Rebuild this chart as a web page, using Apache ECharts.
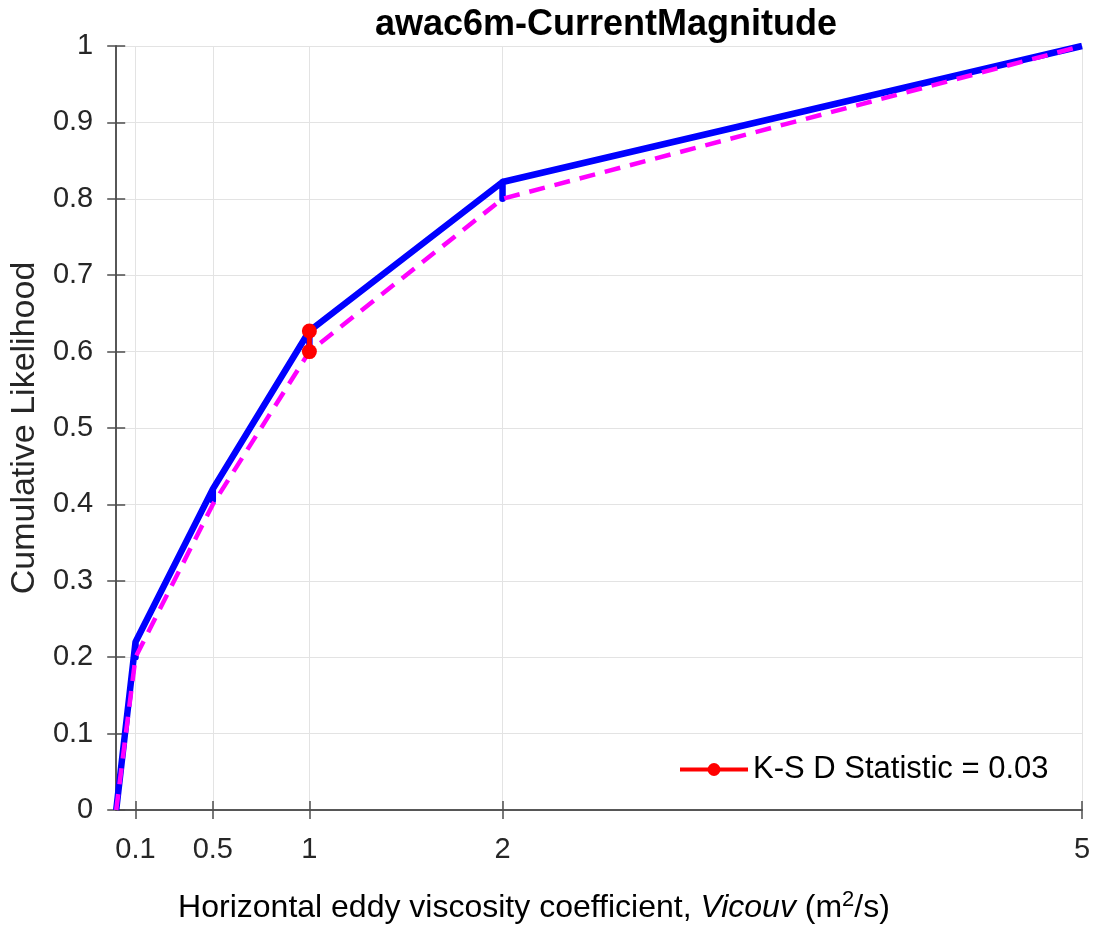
<!DOCTYPE html>
<html>
<head>
<meta charset="utf-8">
<script src="https://cdn.jsdelivr.net/npm/echarts@6/dist/echarts.min.js"></script>
<style>
html,body{margin:0;padding:0;background:#fff;}
#c{width:1094px;height:925px;}
</style>
</head>
<body>
<div id="c"></div>
<script>
// ---- data ----
const titleText = 'awac6m-CurrentMagnitude';
const xTickValues = [0.1, 0.5, 1, 2, 5];
const yTickValues = [0, 0.1, 0.2, 0.3, 0.4, 0.5, 0.6, 0.7, 0.8, 0.9, 1];
// model CDF (blue, solid)
const blueX = [0, 0.1, 0.1, 0.1, 0.5, 0.5, 0.5, 1, 1, 1, 2, 2, 2, 5];
const blueY = [0, 0.22, 0.20, 0.22, 0.42, 0.405, 0.42, 0.627, 0.60, 0.627, 0.822, 0.80, 0.822, 1];
// observed CDF (magenta, dashed)
const magX = [0, 0.1, 0.5, 1, 2, 5];
const magY = [0, 0.2, 0.4, 0.6, 0.8, 1];
// K-S statistic segment
const ksX = [1, 1];
const ksY = [0.6, 0.627];
const ksName = 'K-S D Statistic = 0.03';

const zip = (a, b) => a.map((v, i) => [v, b[i]]);
const FONT = "'Liberation Sans', Arial, Helvetica, sans-serif";
const AX = '#4d4d4d';
const GRID = '#e3e3e3';

const chart = echarts.init(document.getElementById('c'));
chart.setOption({
  backgroundColor: '#ffffff',
  animation: false,
  title: [
    {
      text: titleText,
      left: 601, top: 2, textAlign: 'center',
      textStyle: {fontFamily: FONT, fontWeight: 'bold', fontSize: 36, color: '#000'}
    },
    {
      text: '{n|Horizontal eddy viscosity coefficient, }{i|Vicouv}{n| (m}{s|2}{n|/s)}',
      left: 529, top: 884, textAlign: 'center',
      textStyle: {
        fontFamily: FONT, fontSize: 32, fontWeight: 'normal', color: '#000',
        rich: {
          n: {fontFamily: FONT, fontSize: 32, fontWeight: 'normal', color: '#000'},
          i: {fontFamily: FONT, fontSize: 32, fontWeight: 'normal', color: '#000', fontStyle: 'italic'},
          s: {fontFamily: FONT, fontSize: 22, fontWeight: 'normal', color: '#000', verticalAlign: 'top', padding: [0, 0, 16, 0]}
        }
      }
    }
  ],
  legend: {
    data: [{name: ksName, lineStyle: {width: 4, color: '#ff0000'}}],
    left: 673, top: 749,
    itemWidth: 68, itemHeight: 16, itemGap: 8,
    textStyle: {fontFamily: FONT, fontSize: 31, color: '#000'},
    backgroundColor: 'transparent'
  },
  grid: {left: 116, right: 12, top: 46, bottom: 115, containLabel: false},
  xAxis: [
    {
      type: 'value', min: 0, max: 5, position: 'bottom',
      axisLine: {show: true, lineStyle: {color: AX, width: 1.5}},
      axisTick: {show: true, inside: false, length: 9, customValues: xTickValues, lineStyle: {color: AX, width: 1.5}},
      axisLabel: {customValues: xTickValues, margin: 25, fontFamily: FONT, fontSize: 29, color: '#262626',
        formatter: v => String(v)},
      splitLine: {show: true, lineStyle: {color: GRID, width: 1}}
    },
    {
      type: 'value', min: 0, max: 5, position: 'top',
      axisLine: {show: true, lineStyle: {color: AX, width: 1.5}},
      axisTick: {show: true, inside: false, length: 9, customValues: xTickValues, lineStyle: {color: AX, width: 1.5}},
      axisLabel: {show: false},
      splitLine: {show: false}
    }
  ],
  yAxis: [
    {
      type: 'value', min: 0, max: 1, interval: 0.1, position: 'left',
      name: 'Cumulative Likelihood', nameLocation: 'middle', nameGap: 66,
      nameTextStyle: {fontFamily: FONT, fontSize: 34, color: '#262626'},
      axisLine: {show: true, lineStyle: {color: AX, width: 1.5}},
      axisTick: {show: true, inside: false, length: 9, lineStyle: {color: AX, width: 1.5}},
      axisLabel: {margin: 23, fontFamily: FONT, fontSize: 29, color: '#262626',
        formatter: v => String(Math.round(v * 10) / 10)},
      splitLine: {show: true, lineStyle: {color: GRID, width: 1}}
    },
    {
      type: 'value', min: 0, max: 1, interval: 0.1, position: 'right',
      axisLine: {show: true, lineStyle: {color: AX, width: 1.5}},
      axisTick: {show: true, inside: false, length: 9, lineStyle: {color: AX, width: 1.5}},
      axisLabel: {show: false},
      splitLine: {show: false}
    }
  ],
  series: [
    {
      name: 'model', type: 'line', data: zip(blueX, blueY),
      showSymbol: false, symbol: 'none', z: 2,
      lineStyle: {color: '#0000ff', width: 6.5, join: 'round'}
    },
    {
      name: 'observed', type: 'line', data: zip(magX, magY),
      showSymbol: false, symbol: 'none', z: 3,
      lineStyle: {color: '#ff00ff', width: 4.5, type: [16, 10]}
    },
    {
      name: ksName, type: 'line', data: zip(ksX, ksY),
      symbol: 'circle', symbolSize: 15, showSymbol: true, z: 4,
      itemStyle: {color: '#ff0000'},
      lineStyle: {color: '#ff0000', width: 5}
    }
  ]
});
</script>
</body>
</html>
